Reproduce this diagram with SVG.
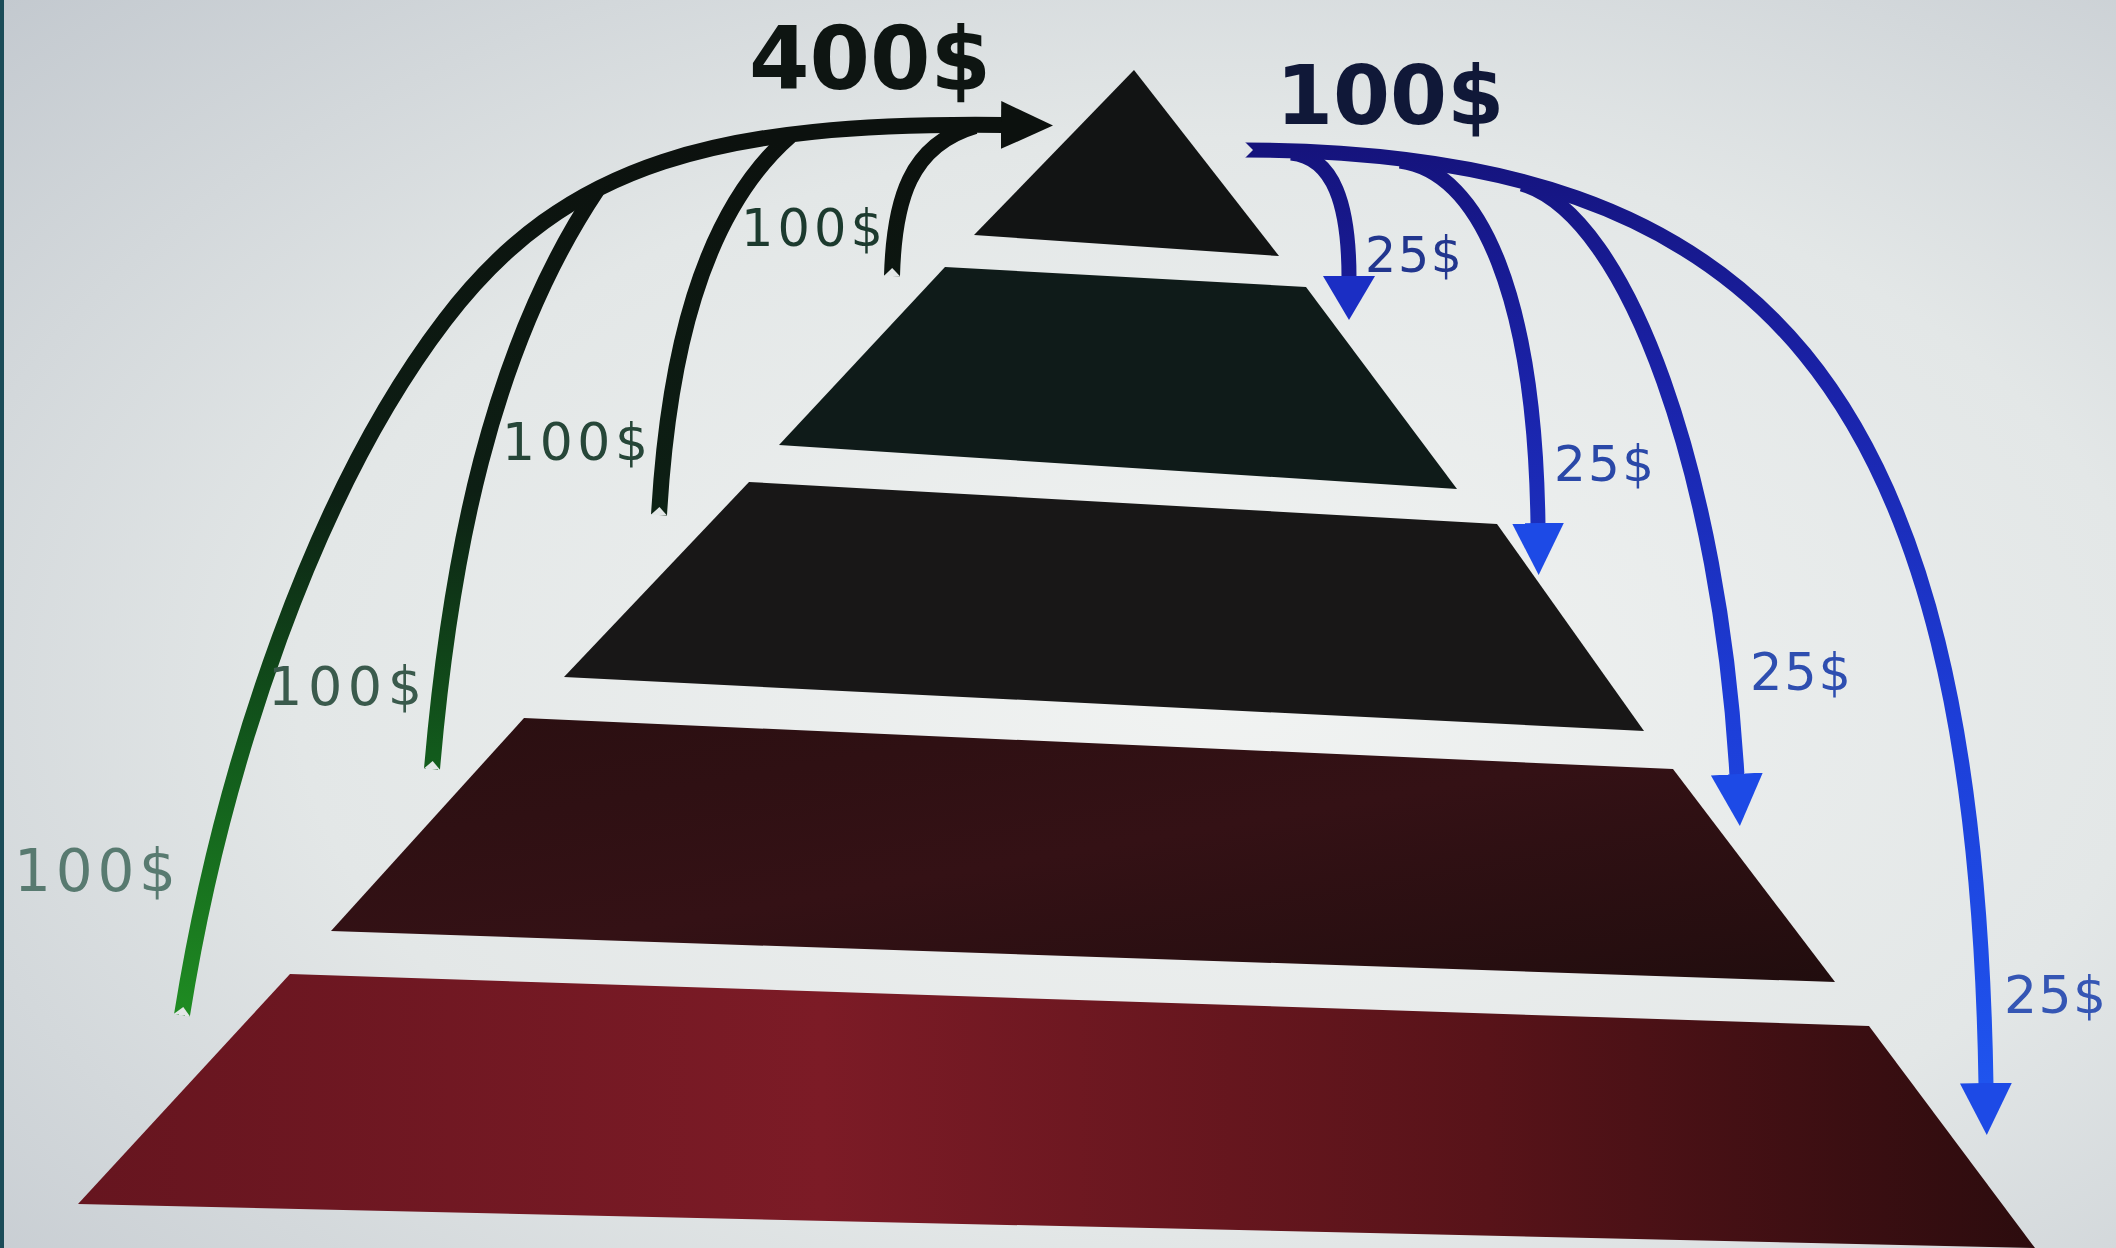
<svg xmlns="http://www.w3.org/2000/svg" width="2116" height="1248" viewBox="0 0 2116 1248">
<style>
.lbl{font-family:"DejaVu Sans","Liberation Sans",sans-serif;}
.big{font-weight:bold;}
.gline{fill:none;stroke:url(#gGrad);stroke-width:16;}
.bline{fill:none;stroke:url(#bGrad);stroke-width:15;}
</style>
<defs>
<radialGradient id="bg" cx="0.58" cy="0.55" r="0.8">
<stop offset="0" stop-color="#f1f3f2"/>
<stop offset="0.55" stop-color="#e3e7e7"/>
<stop offset="1" stop-color="#c3c9cf"/>
</radialGradient>
<linearGradient id="gGrad" gradientUnits="userSpaceOnUse" x1="0" y1="140" x2="0" y2="1015">
<stop offset="0" stop-color="#0c110e"/>
<stop offset="0.4" stop-color="#0d1f14"/>
<stop offset="0.7" stop-color="#125a1c"/>
<stop offset="1" stop-color="#1f8c22"/>
</linearGradient>
<linearGradient id="bGrad" gradientUnits="userSpaceOnUse" x1="0" y1="145" x2="0" y2="1100">
<stop offset="0" stop-color="#15137c"/>
<stop offset="0.25" stop-color="#1a22a8"/>
<stop offset="0.6" stop-color="#1d3ed8"/>
<stop offset="1" stop-color="#1f55ef"/>
</linearGradient>
<linearGradient id="t4" x1="0" y1="0" x2="1" y2="1">
<stop offset="0" stop-color="#2a0f11"/>
<stop offset="0.5" stop-color="#341115"/>
<stop offset="1" stop-color="#210d0e"/>
</linearGradient>
<linearGradient id="t5" x1="0" y1="0" x2="1" y2="0">
<stop offset="0" stop-color="#66151f"/>
<stop offset="0.38" stop-color="#7c1b26"/>
<stop offset="0.72" stop-color="#581319"/>
<stop offset="1" stop-color="#2c0c0e"/>
</linearGradient>
<marker id="gHead" markerUnits="userSpaceOnUse" markerWidth="60" markerHeight="60" refX="2" refY="25" orient="auto">
<polygon points="0,1 52,25 0,49" fill="#0c110e"/>
</marker>
<marker id="bHead1" markerUnits="userSpaceOnUse" markerWidth="60" markerHeight="60" refX="2" refY="26" orient="auto">
<polygon points="0,0 44,26 0,52" fill="#1b2ec4"/>
</marker>
<marker id="bHead" markerUnits="userSpaceOnUse" markerWidth="60" markerHeight="60" refX="2" refY="26" orient="auto">
<polygon points="0,0 52,26 0,52" fill="#1d4ae6"/>
</marker>
<marker id="notch" markerUnits="userSpaceOnUse" markerWidth="20" markerHeight="20" refX="0" refY="10" orient="auto">
<polygon points="-1,1 8,10 -1,19" fill="#e2e6e6"/>
</marker>
</defs>
<rect width="2116" height="1248" fill="url(#bg)"/>
<rect x="0" y="0" width="4" height="1248" fill="#1b4c58"/>
<g id="tier1"><polygon points="1134,70 1279,256 974,235" fill="#121414"/></g>
<g id="tier2"><polygon points="945,267 1306,287 1457,489 779,445" fill="#0f1b19"/></g>
<g id="tier3"><polygon points="749,482 1497,524 1644,731 564,677" fill="#181717"/></g>
<g id="tier4"><polygon points="524,718 1673,769 1835,982 331,931" fill="url(#t4)"/></g>
<g id="tier5"><polygon points="290,974 1869,1026 2035,1248 78,1204" fill="url(#t5)"/></g>
<g id="connectors">
<path class="gline" d="M182,1015 C222,765 315,490 445,320 C566,161 720,122 1003,125" marker-start="url(#notch)" marker-end="url(#gHead)"/>
<path class="gline" d="M432,769 C450,560 490,350 597,190" marker-start="url(#notch)"/>
<path class="gline" d="M659,515 C668,360 700,215 790,136" marker-start="url(#notch)"/>
<path class="gline" d="M892,276 C894,200 910,145 975,126" marker-start="url(#notch)"/>
<path class="bline" d="M1245,150 C1760,152 1975,380 1986,1085" marker-start="url(#notch)" marker-end="url(#bHead)"/>
<path class="bline" d="M1291,153 C1334,157 1349,205 1349,278" marker-end="url(#bHead1)"/>
<path class="bline" d="M1400,161 C1482,172 1535,300 1538,525" marker-end="url(#bHead)"/>
<path class="bline" d="M1522,184 C1630,216 1720,480 1737,776" marker-end="url(#bHead)"/>
</g>
<g id="labels">
<text class="lbl big" x="749" y="89" font-size="87" fill="#0e1512">400$</text>
<text class="lbl big" x="1276" y="124" font-size="82" fill="#101838">100$</text>
<text class="lbl" x="741" y="246" font-size="51" textLength="142" fill="#1c3a2e">100$</text>
<text class="lbl" x="502" y="460" font-size="52" textLength="146" fill="#264638">100$</text>
<text class="lbl" x="268" y="705" font-size="54" textLength="154" fill="#3a5a4c">100$</text>
<text class="lbl" x="14" y="891" font-size="58" textLength="162" fill="#587a70">100$</text>
<text class="lbl" x="1365" y="272" font-size="49" textLength="97" fill="#22368e">25$</text>
<text class="lbl" x="1554" y="481" font-size="50" textLength="100" fill="#2a48a8">25$</text>
<text class="lbl" x="1750" y="690" font-size="51" textLength="101" fill="#2e4eb0">25$</text>
<text class="lbl" x="2004" y="1013" font-size="52" textLength="102" fill="#3556b4">25$</text>
</g>
</svg>
